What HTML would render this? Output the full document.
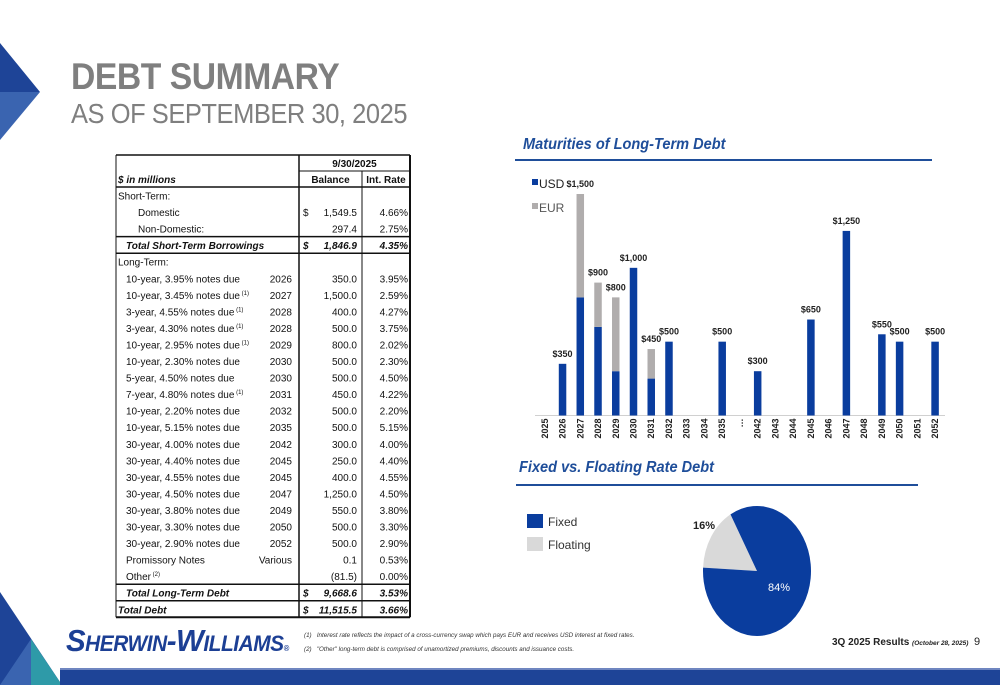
<!DOCTYPE html>
<html><head><meta charset="utf-8">
<style>
body{margin:0;width:1000px;height:685px;overflow:hidden;background:#fff;font-family:"Liberation Sans",sans-serif;position:relative}
.abs{position:absolute}
.sx{transform-origin:0 0}
</style></head><body>
<svg class="abs" style="left:0;top:0" width="1000" height="685">
<polygon points="0,43 40,92 0,92" fill="#1e4497"/>
<polygon points="0,92 40,92 0,140" fill="#3a64b0"/>
<polygon points="0,592 62,685 0,685" fill="#1e4497"/>
<polygon points="31,639 0,685 31,685" fill="#3a64b0"/>
<polygon points="31,639 62,685 31,685" fill="#2e9aa8"/>
<rect x="60" y="670" width="940" height="15" fill="#1e4497"/>
<rect x="60" y="668" width="940" height="2" fill="#6f86c0"/>
</svg>
<div class="abs sx" style="left:71px;top:56px;font-size:37px;font-weight:bold;color:#7f7f7f;letter-spacing:-0.5px;transform:scaleX(0.91)">DEBT SUMMARY</div>
<div class="abs sx" style="left:71px;top:98px;font-size:28px;color:#7f7f7f;letter-spacing:-0.5px;transform:scaleX(0.91)">AS OF SEPTEMBER 30, 2025</div>

<svg id="tbl-svg" class="abs" style="left:0;top:0" width="1000" height="685"></svg>

<div class="abs sx" style="left:523px;top:136px;font-size:16px;font-weight:bold;font-style:italic;color:#1f4e9a;transform:scaleX(0.91)">Maturities of Long-Term Debt</div>
<div class="abs" style="left:515px;top:159px;width:417px;height:2px;background:#1f4e9a"></div>
<div class="abs sx" style="left:519px;top:459px;font-size:16px;font-weight:bold;font-style:italic;color:#1f4e9a;transform:scaleX(0.91)">Fixed vs. Floating Rate Debt</div>
<div class="abs" style="left:516px;top:484px;width:402px;height:2px;background:#1f4e9a"></div>

<svg id="bar" class="abs" style="left:0;top:0" width="1000" height="685"></svg>
<svg id="pie" class="abs" style="left:0;top:0" width="1000" height="685"></svg>

<div class="abs sx" style="left:66px;top:623px;font-size:31px;font-weight:bold;font-style:italic;color:#1c3f94;letter-spacing:-0.5px;font-variant:small-caps;transform:scaleX(0.95)">Sherwin-Williams<span style="font-size:8px">®</span></div>
<div class="abs sx" style="left:304px;top:632px;font-size:6.5px;font-style:italic;color:#333;transform:scaleX(0.96)">(1)&nbsp;&nbsp;&nbsp;Interest rate reflects the impact of a cross-currency swap which pays EUR and receives USD interest at fixed rates.</div>
<div class="abs sx" style="left:304px;top:646px;font-size:6.5px;font-style:italic;color:#333;transform:scaleX(0.96)">(2)&nbsp;&nbsp;&nbsp;"Other" long-term debt is comprised of unamortized premiums, discounts and issuance costs.</div>
<div class="abs" style="left:832px;top:637px;font-size:10px;font-weight:bold;color:#222">3Q 2025 Results <span style="font-size:6.5px;font-style:italic">(October 28, 2025)</span></div>
<div class="abs" style="left:974px;top:636px;font-size:11px;color:#222">9</div>

<script>
// ---------- Table ----------
const rowLabels=["Short-Term:","Domestic","Non-Domestic:","Total Short-Term Borrowings","Long-Term:","10-year, 3.95% notes due","10-year, 3.45% notes due","3-year, 4.55% notes due","3-year, 4.30% notes due","10-year, 2.95% notes due","10-year, 2.30% notes due","5-year, 4.50% notes due","7-year, 4.80% notes due","10-year, 2.20% notes due","10-year, 5.15% notes due","30-year, 4.00% notes due","30-year, 4.40% notes due","30-year, 4.55% notes due","30-year, 4.50% notes due","30-year, 3.80% notes due","30-year, 3.30% notes due","30-year, 2.90% notes due","Promissory Notes","Other","Total Long-Term Debt","Total Debt"];
const rowSup=["","","","","","","(1)","(1)","(1)","(1)","","","(1)","","","","","","","","","","","(2)","",""];
const rowYears=["","","","","","2026","2027","2028","2028","2029","2030","2030","2031","2032","2035","2042","2045","2045","2047","2049","2050","2052","Various","","",""];
const rowBalances=["","1,549.5","297.4","1,846.9","","350.0","1,500.0","400.0","500.0","800.0","500.0","500.0","450.0","500.0","500.0","300.0","250.0","400.0","1,250.0","550.0","500.0","500.0","0.1","(81.5)","9,668.6","11,515.5"];
const rowRates=["","4.66%","2.75%","4.35%","","3.95%","2.59%","4.27%","3.75%","2.02%","2.30%","4.50%","4.22%","2.20%","5.15%","4.00%","4.40%","4.55%","4.50%","3.80%","3.30%","2.90%","0.53%","0.00%","3.53%","3.66%"];
const NS="http://www.w3.org/2000/svg";
function mk(p,tag,a){const e=document.createElementNS(NS,tag);for(const k in a)e.setAttribute(k,a[k]);p.appendChild(e);return e;}
const T=document.getElementById('tbl-svg');
const L=116,C1=299,C2=362,R=410,top0=155,hdr2=171,body0=187,rh=16.55;
const ff='"Liberation Sans",sans-serif';
function txt(x,y,s,opt){const t=mk(T,'text',Object.assign({x:x,y:y,'font-size':10,'font-family':ff,fill:'#111'},opt||{}));t.textContent=s;return t;}
let h=txt((C1+R)/2,top0+12,"9/30/2025",{'text-anchor':'middle','font-weight':'bold'});

h=txt(L+2,hdr2+12,"$ in millions",{'font-weight':'bold','font-style':'italic'});

h=txt((C1+C2)/2,hdr2+12,"Balance",{'text-anchor':'middle','font-weight':'bold'});

h=txt((C2+R)/2,hdr2+12,"Int. Rate",{'text-anchor':'middle','font-weight':'bold'});

const totals=[3,24,25];
rowLabels.forEach((lab,i)=>{
  const y=body0+i*rh+12.5;
  const isTot=totals.includes(i);
  const st=isTot?{'font-weight':'bold','font-style':'italic'}:{};
  let ind=L+2;
  if(i==1||i==2) ind=L+22; else if(i>=5&&i<=23) ind=L+10;
  if(i==3||i==24) ind=L+10;
  const t=txt(ind,y,lab,st);
  
  
  if(rowSup[i]){const s=mk(t,'tspan',{'font-size':6,dy:-4});s.textContent=" "+rowSup[i];}
  if(rowYears[i]){const yy=txt(292,y,rowYears[i],{'text-anchor':'end'});
    }
  if(rowBalances[i]){const b=txt(357,y,rowBalances[i],Object.assign({'text-anchor':'end'},st));
    }
  if(i==1||isTot){const d=txt(C1+4,y,"$",st);}
  if(rowRates[i]){const r=txt(R-2,y,rowRates[i],Object.assign({'text-anchor':'end'},st));
    }
});
const bottom=body0+rowLabels.length*rh;
const ln=(x1,y1,x2,y2,w)=>mk(T,'line',{x1:x1,y1:y1,x2:x2,y2:y2,stroke:'#111','stroke-width':w||1});
ln(L,top0,R,top0,1.5);ln(C1,hdr2,R,hdr2,1);ln(L,body0,R,body0,1.5);
ln(L,top0,L,bottom,1);ln(C1,top0,C1,bottom,1.5);ln(C2,hdr2,C2,bottom,1);ln(R,top0,R,bottom,2);
[3,4,24,25].forEach(i=>ln(L,body0+i*rh,R,body0+i*rh,1.5));
ln(L,bottom,R,bottom,2);

// ---------- Bar chart ----------
const years=["2025","2026","2027","2028","2029","2030","2031","2032","2033","2034","2035","…","2042","2043","2044","2045","2046","2047","2048","2049","2050","2051","2052"];
const usd=[0,350,800,600,300,1000,250,500,0,0,500,0,300,0,0,650,0,1250,0,550,500,0,500];
const eur=[0,0,700,300,500,0,200,0,0,0,0,0,0,0,0,0,0,0,0,0,0,0,0];
const B=document.getElementById('bar');
const x0=544.8,step=17.74,base=415.5,maxV=1500,hPx=221.5,bw=7.5;
const xS=i=>x0+i*step;
const yS=v=>base-v/maxV*hPx;
function bt(x,y,s,o){const t=mk(B,'text',Object.assign({x:x,y:y,'font-family':ff,'font-size':9,'font-weight':'bold',fill:'#222','text-anchor':'middle'},o||{}));t.textContent=s;return t;}
mk(B,'line',{x1:535,y1:base,x2:945,y2:base,stroke:'#d0d0d0','stroke-width':1});
years.forEach((yr,i)=>{
  const cx=xS(i);
  if(usd[i]>0){const r=mk(B,'rect',{x:cx-bw/2,y:yS(usd[i]),width:bw,height:base-yS(usd[i]),fill:'#0a3d9e'});
    }
  if(eur[i]>0){const r=mk(B,'rect',{x:cx-bw/2,y:yS(usd[i]+eur[i]),width:bw,height:yS(usd[i])-yS(usd[i]+eur[i]),fill:'#b0adad'});
    }
  const tot=usd[i]+eur[i];
  if(tot>0){const t=bt(cx,yS(tot)-7,'$'+tot.toLocaleString('en-US'));
    }
  const lx=cx+3,ly=base+3;
  const t=bt(lx,ly,yr,{'text-anchor':'end',transform:`rotate(-90 ${lx} ${ly})`});
  
});
let lg=mk(B,'rect',{x:532,y:179,width:6,height:6,fill:'#0a3d9e'});

lg=bt(539,188,'USD',{'text-anchor':'start','font-size':12,'font-weight':'normal'});

lg=mk(B,'rect',{x:532,y:203,width:6,height:6,fill:'#b0adad'});

lg=bt(539,212,'EUR',{'text-anchor':'start','font-size':12,'font-weight':'normal',fill:'#555'});


// ---------- Pie ----------
const pieLabels=["Floating","Fixed"];
const pieValues=[16,84];
const pieColors=["#d9d9d9","#0a3d9e"];
const P=document.getElementById('pie');
const pcx=757,pcy=571,rx=54,ry=65;
let ang=273;
const pt=a=>{const r=a*Math.PI/180;return [pcx+rx*Math.sin(r),pcy-ry*Math.cos(r)];};
const totalP=pieValues.reduce((a,b)=>a+b,0);
pieValues.forEach((v,i)=>{
  const sw=v/totalP*360;const a1=ang,a2=ang+sw;
  const [x1,y1]=pt(a1),[x2,y2]=pt(a2);
  const p=mk(P,'path',{d:`M${pcx},${pcy} L${x1},${y1} A${rx},${ry} 0 ${sw>180?1:0} 1 ${x2},${y2} Z`,fill:pieColors[i]});
  
  
  ang=a2;
});
function pt2(x,y,s,o){const t=mk(P,'text',Object.assign({x:x,y:y,'font-family':ff,'font-size':11,'font-weight':'bold','text-anchor':'middle'},o));t.textContent=s;return t;}
let pl=pt2(704,529,pieValues[0]+'%',{fill:'#222'});

pl=pt2(779,591,pieValues[1]+'%',{fill:'#fff','font-weight':'normal'});

pieLabels.slice().reverse().forEach((lab,k)=>{
  const i=pieLabels.length-1-k;
  const r=mk(P,'rect',{x:527,y:514+k*23,width:16,height:14,fill:pieColors[i]});
  
  const t=pt2(548,526+k*23,lab,{'text-anchor':'start','font-weight':'normal','font-size':12,fill:'#333'});
  
});
</script>
</body></html>
